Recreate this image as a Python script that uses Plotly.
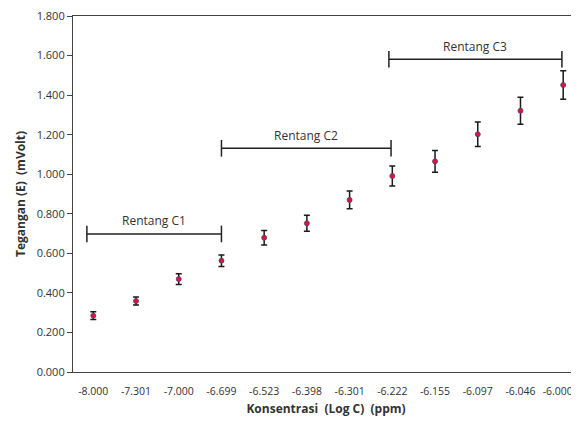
import plotly.graph_objects as go

categories = ["-8.000", "-7.301", "-7.000", "-6.699", "-6.523", "-6.398",
              "-6.301", "-6.222", "-6.155", "-6.097", "-6.046", "-6.000"]
tegangan = [0.285, 0.359, 0.470, 0.563, 0.679, 0.752,
            0.870, 0.991, 1.065, 1.202, 1.321, 1.451]
error = [0.020, 0.020, 0.027, 0.029, 0.037, 0.040,
         0.045, 0.051, 0.055, 0.062, 0.068, 0.072]

# ranges: (label, start category index, end category index, y level)
ranges_lbl = ["Rentang C1", "Rentang C2", "Rentang C3"]
ranges_start = [-0.15, 3.0, 6.92]
ranges_end = [3.0, 6.97, 10.97]
ranges_y = [0.698, 1.131, 1.581]
y_ticks = [0.0, 0.2, 0.4, 0.6, 0.8, 1.0, 1.2, 1.4, 1.6, 1.8]

FONT = "Open Sans"

# tick texts; the last one is padded so it stays fully inside the page edge
tick_text = categories[:-1] + [categories[-1] + "\u00a0\u00a0\u00a0\u00a0"]

fig = go.Figure()
fig.add_trace(go.Scatter(
    x=categories, y=tegangan, mode="markers",
    marker=dict(color="#e8102a", size=5, symbol="circle",
                line=dict(color="#4a3d8f", width=0.8)),
    error_y=dict(type="data", array=error, visible=True,
                 color="#1a1a1a", thickness=1.5, width=3),
    showlegend=False,
))

shapes = []
annotations = []
for lbl, x0, x1, yv in zip(ranges_lbl, ranges_start, ranges_end, ranges_y):
    shapes.append(dict(type="line", xref="x", yref="y", x0=x0, x1=x1, y0=yv, y1=yv,
                       line=dict(color="#222222", width=1.5)))
    for xe in (x0, x1):
        shapes.append(dict(type="line", xref="x", yref="y", x0=xe, x1=xe,
                           y0=yv - 0.042, y1=yv + 0.042,
                           line=dict(color="#222222", width=1.5)))
    annotations.append(dict(x=(x0 + x1) / 2, y=yv, xref="x", yref="y",
                            text=lbl, showarrow=False, yshift=13,
                            font=dict(family=FONT, size=12, color="#333333")))

# page body has an 8px default margin, so the figure is sized/shifted to compensate
fig.update_layout(
    width=571, height=409,
    margin=dict(l=65, r=0, t=8, b=45),
    paper_bgcolor="white", plot_bgcolor="white",
    shapes=shapes, annotations=annotations,
    font=dict(family=FONT, color="#333333"),
)
fig.update_xaxes(
    type="category", categoryorder="array", categoryarray=categories,
    tickmode="array", tickvals=categories, ticktext=tick_text,
    range=[-0.475, 11.37],
    showgrid=False, showline=True, linecolor="#444444", linewidth=1.2,
    mirror=True, ticks="", tickfont=dict(family=FONT, size=10.5, color="#333333"),
    ticklabeloverflow="allow", ticklabelstandoff=9,
    title=dict(text="<b>Konsentrasi  (Log C)  (ppm)</b>",
               font=dict(family=FONT, size=12, color="#333333"), standoff=8),
    automargin=False,
)
fig.update_yaxes(
    range=[0, 1.8], tickvals=y_ticks, tickformat=".3f",
    showgrid=False, showline=True, linecolor="#444444", linewidth=1.2,
    ticks="outside", ticklen=5, tickcolor="#444444", zeroline=False,
    tickfont=dict(family=FONT, size=11, color="#333333"),
    ticklabeloverflow="allow",
    title=dict(text="<b>Tegangan (E)  (mVolt)</b>",
               font=dict(family=FONT, size=12, color="#333333"), standoff=8),
    automargin=False,
)

fig.write_html("out.html")
